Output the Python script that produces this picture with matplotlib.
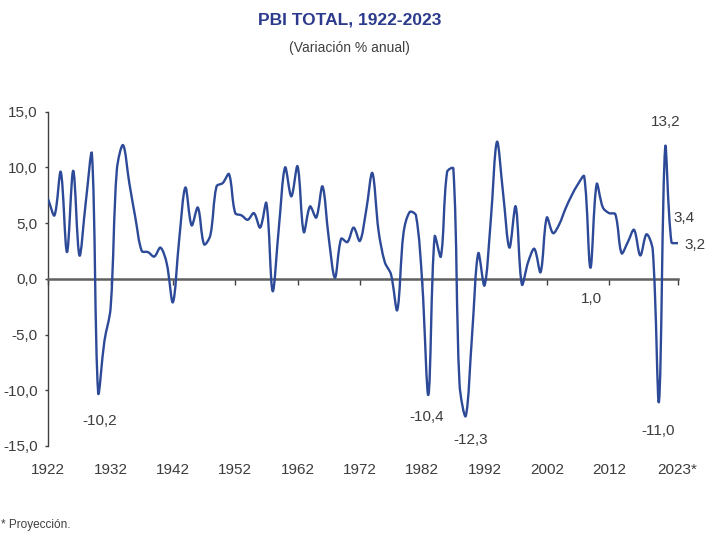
import numpy as np
import matplotlib
matplotlib.use("Agg")
import matplotlib.pyplot as plt
from matplotlib.path import Path
from matplotlib.patches import PathPatch

plt.rcParams['font.family'] = ['Liberation Sans', 'DejaVu Sans']

# Datos: variacion % anual del PBI
anios = list(range(1922, 2024))
pbi = [
    7.1, 5.7, 9.6, 2.4, 9.7, 2.1, 6.8, 11.2, -10.2, -5.6,      # 1922-1931
    -2.6, 9.8, 12.0, 8.6, 5.4, 2.5, 2.4, 2.0, 2.8, 1.4,        # 1932-1941
    -2.1, 3.5, 8.2, 4.8, 6.4, 3.1, 3.9, 8.3, 8.6, 9.4,         # 1942-1951
    5.9, 5.7, 5.3, 5.9, 4.6, 6.8, -1.1, 4.6, 10.0, 7.4,        # 1952-1961
    10.1, 4.2, 6.5, 5.5, 8.3, 3.7, 0.1, 3.6, 3.3, 4.6,         # 1962-1971
    3.4, 6.1, 9.5, 4.3, 1.5, 0.4, -2.8, 4.1, 6.0, 5.7,         # 1972-1981
    -0.3, -10.4, 3.8, 2.0, 9.6, 9.9, -9.5, -12.3, -5.1, 2.3,   # 1982-1991
    -0.6, 5.2, 12.3, 7.6, 2.8, 6.5, -0.5, 1.5, 2.7, 0.6,       # 1992-2001
    5.5, 4.1, 4.9, 6.3, 7.5, 8.5, 9.2, 1.0, 8.5, 6.4,          # 2002-2011
    5.9, 5.8, 2.3, 3.3, 4.4, 2.1, 4.0, 2.6, -11.0, 11.8,       # 2012-2021
    3.3, 3.2,                                                  # 2022-2023
]

xticks = [1922, 1932, 1942, 1952, 1962, 1972, 1982, 1992, 2002, 2012, 2023]
xlabels = ['1922', '1932', '1942', '1952', '1962', '1972', '1982', '1992', '2002', '2012', '2023*']
yticks = [-15, -10, -5, 0, 5, 10, 15]

etiquetas = ['13,2', '3,4', '3,2', '1,0', '-10,2', '-10,4', '-12,3', '-11,0']
pos_etiquetas = [(2021.1, 14.1), (2024.0, 5.5), (2025.8, 3.0), (2009.1, -1.8),
                 (1930.2, -12.8), (1982.8, -12.4), (1989.8, -14.5), (2019.8, -13.7)]

azul = '#2d4a98'
texto = '#3d3d3d'

fig = plt.figure(figsize=(7.23, 5.60), dpi=100)
ax = fig.add_axes([0.0668, 0.2036, 0.8705, 0.5969])
ax.set_xlim(1922, 2023)
ax.set_ylim(-15, 15)

# linea suavizada tipo Excel: bezier con tangentes repartidas segun el largo
# de cada tramo en pantalla (evita que los picos se pasen de largo)
pts = np.column_stack([anios, pbi]).astype(float)
pant = ax.transData.transform(pts)
n = len(pts)
salida = np.zeros_like(pts)
entrada = np.zeros_like(pts)
for i in range(n):
    a = pts[max(i - 1, 0)]
    b = pts[min(i + 1, n - 1)]
    d = b - a
    lp = np.hypot(*(pant[i] - pant[max(i - 1, 0)]))
    ln = np.hypot(*(pant[min(i + 1, n - 1)] - pant[i]))
    tot = lp + ln if lp + ln > 0 else 1
    salida[i] = pts[i] + d * ln / tot / 3
    entrada[i] = pts[i] - d * lp / tot / 3
verts = [tuple(pts[0])]
codes = [Path.MOVETO]
for i in range(n - 1):
    verts += [tuple(salida[i]), tuple(entrada[i + 1]), tuple(pts[i + 1])]
    codes += [Path.CURVE4] * 3
ax.add_patch(PathPatch(Path(verts, codes), fill=False, edgecolor=azul, lw=1.7,
                       capstyle='round', joinstyle='round', zorder=3))

ax.spines['top'].set_visible(False)
ax.spines['right'].set_visible(False)
ax.spines['bottom'].set_position(('data', 0))
ax.spines['bottom'].set_color('#606060')
ax.spines['bottom'].set_linewidth(1.8)
ax.spines['left'].set_color('#404040')
ax.spines['left'].set_linewidth(1.0)

ax.set_xticks(xticks)
ax.set_xticklabels(xlabels)
ax.set_yticks(yticks)
ax.set_yticklabels([f'{v:.1f}'.replace('.', ',') for v in yticks])
ax.tick_params(axis='x', direction='out', length=4.5, width=1.0, color='#404040',
               pad=128, labelsize=11, labelcolor=texto)
ax.tick_params(axis='y', direction='out', length=2.5, width=1.0, color='#404040',
               pad=5, labelsize=11, labelcolor=texto)

for t, (px, py) in zip(etiquetas, pos_etiquetas):
    ax.text(px, py, t, ha='center', va='center', fontsize=11, color=texto, clip_on=False)

fig.text(0.484, 0.964, 'PBI TOTAL, 1922-2023', ha='center', va='center',
         fontsize=12.5, fontweight='bold', color='#2b3a8c')
fig.text(0.484, 0.914, '(Variación % anual)', ha='center', va='center',
         fontsize=10, color='#404040')
fig.text(0.002, 0.062, '* Proyección.', ha='left', va='center', fontsize=8.5, color='#404040')

fig.savefig('out.png', dpi=100)
